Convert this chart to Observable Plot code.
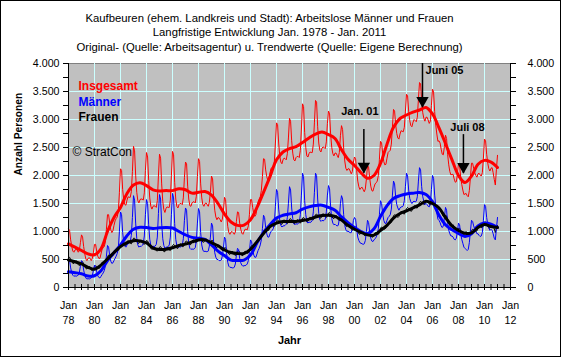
<!DOCTYPE html>
<html><head><meta charset="utf-8">
<script src="https://cdn.jsdelivr.net/npm/d3@7"></script>
<script src="https://cdn.jsdelivr.net/npm/@observablehq/plot@0.6"></script>
<style>
html,body{margin:0;padding:0;background:#fff;}
#chart svg{display:block;outline:1px solid #000;outline-offset:-1px;}
</style></head><body><div id="chart"></div>
<script>
// Monthly values, Jan 1978 ... Jan 2011
const startYear = 1978;
const maenner = [
520,480,350,260,220,200,210,200,210,220,270,380,
480,440,310,220,170,150,160,150,160,170,220,300,
400,380,280,210,180,170,200,230,260,300,380,560,
750,720,580,470,430,440,480,520,560,610,700,1000,
1350,1300,980,800,740,720,760,780,790,820,930,1250,
1640,1560,1150,880,760,720,740,730,750,780,920,1300,
1570,1500,1120,860,750,720,740,730,740,770,900,1320,
1660,1580,1150,870,750,700,720,720,730,760,900,1300,
1680,1600,1140,860,750,720,730,720,730,750,870,1200,
1420,1380,1000,790,700,680,690,680,690,710,830,1150,
1410,1350,980,760,670,640,650,640,640,650,740,900,
1150,1100,800,620,540,500,500,480,480,490,560,700,
900,860,600,450,380,360,360,350,350,360,420,580,
700,680,520,440,400,380,390,390,400,420,480,640,
850,820,680,580,540,540,600,660,700,760,850,1050,
1290,1250,1070,960,900,900,960,1000,1020,1050,1150,1450,
1750,1700,1400,1200,1110,1080,1100,1100,1110,1130,1250,1500,
1800,1740,1420,1230,1140,1120,1140,1130,1140,1160,1300,1650,
2040,1980,1550,1300,1180,1150,1170,1160,1170,1200,1350,1700,
2040,2000,1580,1320,1210,1180,1200,1190,1200,1220,1350,1650,
1820,1760,1430,1230,1150,1120,1130,1110,1100,1110,1220,1500,
1640,1580,1300,1110,1030,1000,1010,990,980,980,1050,1200,
1250,1220,1050,900,840,800,790,780,770,780,840,1000,
1200,1160,1000,880,830,820,850,870,900,950,1050,1300,
1550,1500,1330,1200,1150,1140,1200,1250,1270,1300,1400,1650,
1900,1850,1620,1480,1420,1380,1420,1440,1440,1460,1550,1800,
2040,1990,1740,1590,1530,1500,1530,1540,1530,1540,1620,1900,
2140,2100,1800,1620,1540,1480,1500,1480,1450,1440,1500,1750,
2000,1950,1650,1450,1330,1220,1200,1160,1100,1070,1100,1250,
1430,1380,1150,1020,960,920,920,900,860,850,880,1000,
1150,1120,960,860,790,720,700,680,660,680,800,1000,
1200,1180,1100,1040,1000,960,960,930,910,920,980,1200,
1480,1450,1250,1120,1060,1020,1040,1020,960,880,850,1050,
1250];
const frauen = [
530,540,500,470,430,430,460,480,460,410,390,420,
460,460,420,380,340,330,360,380,360,310,300,320,
370,390,370,350,340,350,400,450,450,430,430,480,
550,580,570,560,550,570,630,670,670,650,660,700,
770,790,770,760,740,750,800,840,820,790,780,820,
880,880,850,820,790,790,830,850,830,780,770,790,
840,830,790,740,700,680,710,730,710,660,650,670,
720,730,700,670,640,640,690,720,700,670,660,700,
750,770,740,720,700,700,750,780,770,730,730,760,
820,830,810,790,760,770,820,850,840,800,800,830,
890,900,870,840,810,810,850,870,840,800,780,800,
840,840,800,760,720,710,750,760,730,680,660,670,
710,710,680,640,600,590,630,650,630,590,570,600,
650,660,630,600,570,570,610,650,640,610,620,660,
720,750,750,740,730,760,820,870,880,860,880,930,
1010,1040,1030,1020,1010,1030,1090,1130,1120,1090,1090,1130,
1190,1210,1180,1150,1130,1130,1180,1210,1190,1150,1140,1170,
1220,1230,1200,1170,1140,1140,1180,1210,1200,1160,1150,1180,
1240,1250,1220,1200,1170,1180,1220,1260,1240,1210,1210,1240,
1300,1310,1290,1260,1240,1240,1290,1320,1300,1260,1250,1280,
1330,1340,1300,1270,1240,1230,1270,1290,1260,1210,1190,1210,
1250,1240,1190,1150,1100,1090,1110,1130,1100,1050,1020,1040,
1080,1080,1040,1000,960,950,990,1010,980,930,920,940,
980,990,960,930,900,900,940,980,970,950,950,990,
1060,1080,1070,1050,1040,1060,1110,1160,1160,1150,1160,1210,
1280,1300,1290,1270,1250,1270,1320,1360,1350,1320,1310,1350,
1410,1430,1410,1390,1360,1370,1420,1460,1450,1420,1420,1460,
1520,1540,1520,1500,1480,1490,1540,1560,1540,1490,1470,1500,
1540,1540,1490,1450,1410,1390,1420,1420,1370,1310,1270,1270,
1290,1280,1220,1170,1110,1090,1100,1120,1080,1030,1010,1020,
1060,1060,1020,980,950,940,970,1000,980,940,930,960,
1020,1040,1030,1010,1000,1010,1070,1110,1100,1070,1070,1110,
1170,1170,1130,1100,1060,1060,1090,1120,1090,1050,980,1060,
1110];
const insgesamt = [
1050,1020,850,730,650,630,670,680,670,630,660,800,
940,900,730,600,510,480,520,530,520,480,520,620,
770,770,650,560,520,520,600,680,710,730,810,1040,
1300,1300,1150,1030,980,1010,1110,1190,1230,1260,1360,1700,
2120,2090,1750,1560,1480,1470,1560,1620,1610,1610,1710,2070,
2520,2440,2000,1700,1550,1510,1570,1580,1580,1560,1690,2090,
2410,2330,1910,1600,1450,1400,1450,1460,1450,1430,1550,1990,
2380,2310,1850,1540,1390,1340,1410,1440,1430,1430,1560,2000,
2430,2370,1880,1580,1450,1420,1480,1500,1500,1480,1600,1960,
2240,2210,1810,1580,1460,1450,1510,1530,1530,1510,1630,1980,
2300,2250,1850,1600,1480,1450,1500,1510,1480,1450,1520,1700,
1990,1940,1600,1380,1260,1210,1250,1240,1210,1170,1220,1370,
1610,1570,1280,1090,980,950,990,1000,980,950,990,1180,
1350,1340,1150,1040,970,950,1000,1040,1040,1030,1100,1300,
1570,1570,1430,1320,1270,1300,1420,1530,1580,1620,1730,1980,
2300,2290,2100,1980,1910,1930,2050,2130,2140,2140,2240,2580,
2940,2910,2580,2350,2240,2210,2280,2310,2300,2280,2390,2670,
3020,2970,2620,2400,2280,2260,2320,2340,2340,2320,2450,2830,
3280,3230,2770,2500,2350,2330,2390,2420,2410,2410,2560,2940,
3340,3310,2870,2580,2450,2420,2490,2510,2500,2480,2600,2930,
3150,3100,2730,2500,2390,2350,2400,2400,2360,2320,2410,2710,
2890,2820,2490,2260,2130,2090,2120,2120,2080,2030,2070,2240,
2330,2300,2090,1900,1800,1750,1780,1790,1750,1710,1760,1940,
2180,2150,1960,1810,1730,1720,1790,1850,1870,1900,2000,2290,
2610,2580,2400,2250,2190,2200,2310,2410,2430,2450,2560,2860,
3180,3150,2910,2750,2670,2650,2740,2800,2790,2780,2860,3150,
3450,3420,3150,2980,2890,2870,2950,3000,2980,2960,3040,3360,
3660,3640,3320,3120,3020,2970,3040,3040,2990,2930,2970,3250,
3540,3490,3140,2900,2740,2610,2620,2580,2470,2380,2370,2520,
2720,2660,2370,2190,2070,2010,2020,2020,1940,1880,1890,2020,
2210,2180,1980,1840,1740,1660,1670,1680,1640,1620,1730,1960,
2220,2220,2130,2050,2000,1970,2030,2040,2010,1990,2050,2310,
2650,2620,2380,2220,2120,2080,2130,2140,2050,1930,1830,2110,
2360];
// Trend values, every half year (Jan, Jul), Jan 1978 ... Jan 2011
const trendInsgesamt = [780,720,660,600,585,690,1000,1250,1430,1680,1830,1870,1820,1745,1725,1730,1730,1765,1745,1685,1700,1715,1650,1500,1310,1170,1110,1115,1210,1430,1700,1980,2280,2420,2480,2515,2590,2670,2740,2775,2730,2660,2460,2290,2180,2050,1950,2000,2214,2560,2860,3018,3080,3130,3170,3214,3100,2850,2570,2280,2000,1875,1990,2200,2270,2240,2143];
const trendMaenner = [280,265,245,205,210,300,480,620,760,925,1040,1075,1070,1055,1065,1072,1062,1000,940,895,880,860,760,650,570,490,482,490,580,800,980,1120,1240,1290,1315,1335,1400,1440,1465,1470,1430,1380,1260,1160,1070,1000,965,1050,1270,1460,1590,1640,1670,1685,1696,1660,1530,1290,1120,1030,965,910,960,1100,1150,1130,1071];
const trendFrauen = [490,460,420,360,325,400,510,625,730,800,835,830,795,705,680,685,710,750,775,815,850,850,800,745,670,625,607,607,680,820,965,1090,1150,1178,1178,1180,1195,1220,1260,1286,1290,1270,1205,1110,1040,985,940,935,1018,1110,1240,1321,1370,1420,1475,1540,1500,1420,1250,1100,1018,970,975,1070,1125,1090,1071];

const yTicks = [0,250,500,750,1000,1250,1500,1750,2000,2250,2500,2750,3000,3250,3500,3750,4000];
const yGrid = [500,1000,1500,2000,2500,3000,3500];
const xLabelYears = [1978,1980,1982,1984,1986,1988,1990,1992,1994,1996,1998,2000,2002,2004,2006,2008,2010,2012];
const xHalfYears = d3.range(1978, 2012.01, 0.5);
const titleLines = [
  "Kaufbeuren (ehem. Landkreis und Stadt): Arbeitslose Männer und Frauen",
  "Langfristige Entwicklung Jan. 1978 - Jan. 2011",
  "Original- (Quelle: Arbeitsagentur) u. Trendwerte (Quelle: Eigene Berechnung)"
];
const legendLabels = ["Insgesamt", "Männer", "Frauen"];
const legendColors = ["#ff0000", "#0000ff", "#000000"];
const annotations = [
  {label: "Jan. 01", date: 2000.72, top: 2820, tip: 2040},
  {label: "Juni 05", date: 2005.23, top: 4000, tip: 3214},
  {label: "Juli 08", date: 2008.38, top: 2730, tip: 2036}
];
const annotationOffsets = [{dx: -4, dy: -18}, {dx: 22, dy: 7}, {dx: 4, dy: -7}];

const monthly = arr => arr.map((v, i) => ({t: startYear + i / 12, v}));
const halfYearly = arr => arr.map((v, i) => ({t: startYear + i / 2, v}));
const fmt = d => String(d).replace(/\B(?=(\d{3})+(?!\d))/g, ".");
const FONT = "Liberation Sans, Arial, sans-serif";

const chart = Plot.plot({
  width: 561, height: 357,
  marginLeft: 68, marginRight: 51, marginTop: 63, marginBottom: 70,
  x: {domain: [1978, 2012], axis: null},
  y: {domain: [0, 4000]},
  style: {fontFamily: FONT, fontSize: "10.67px", background: "#fff", color: "#000", overflow: "visible"},
  marks: [
    Plot.frame({fill: "#c0c0c0", stroke: "#808080"}),
    Plot.ruleY(yGrid, {stroke: "#ccffff", strokeWidth: 1}),
    Plot.ruleX(xLabelYears.slice(1, -1), {stroke: "#ccffff", strokeWidth: 1}),
    Plot.line(monthly(frauen), {x: "t", y: "v", stroke: "#000000", strokeWidth: 1}),
    Plot.line(monthly(maenner), {x: "t", y: "v", stroke: "#0000ff", strokeWidth: 1}),
    Plot.line(monthly(insgesamt), {x: "t", y: "v", stroke: "#ff0000", strokeWidth: 1}),
    Plot.line(halfYearly(trendInsgesamt), {x: "t", y: "v", stroke: "#ff0000", strokeWidth: 3, curve: "catmull-rom"}),
    Plot.line(halfYearly(trendMaenner), {x: "t", y: "v", stroke: "#0000ff", strokeWidth: 3, curve: "catmull-rom"}),
    Plot.line(halfYearly(trendFrauen), {x: "t", y: "v", stroke: "#000000", strokeWidth: 3, curve: "catmull-rom"}),
    // axis lines
    Plot.ruleX([1978, 2012], {stroke: "#000"}),
    Plot.ruleY([0], {stroke: "#000"}),
    Plot.axisY({anchor: "left", ticks: yTicks, tickSize: 5, tickPadding: 4, label: null,
      tickFormat: d => d % 500 ? "" : fmt(d), fontSize: 10.67}),
    Plot.axisY({anchor: "right", ticks: yTicks, tickSize: 5, tickPadding: 12, label: null,
      tickFormat: d => d % 500 ? "" : fmt(d), fontSize: 10.67}),
    Plot.ruleX(xHalfYears, {x: d => d, y1: () => 0, y2: () => 0, insetTop: -3, insetBottom: -3, stroke: "#000"}),
    Plot.text(xLabelYears, {x: d => d, text: d => "Jan\n" + String(d % 100).padStart(2, "0"),
      frameAnchor: "bottom", lineAnchor: "middle", dy: 24.5, lineHeight: 1.4, fontSize: 10.67}),
    // titles
    Plot.text([titleLines.join("\n")], {frameAnchor: "top", dx: -20, dy: -32, lineAnchor: "middle",
      lineHeight: 1.3, fontSize: 11.3}),
    Plot.text(["Jahr"], {frameAnchor: "bottom", dy: 53, lineAnchor: "middle", fontWeight: "bold", fontSize: 11}),
    Plot.text(["Anzahl Personen"], {frameAnchor: "left", dx: -50, rotate: -90, lineAnchor: "middle", fontWeight: "bold", fontSize: 10.2}),
    // legend
    ...legendLabels.map((l, i) => Plot.text([l], {frameAnchor: "top-left", dx: 10, dy: 23 + i * 15.5,
      lineAnchor: "middle", textAnchor: "start", fill: legendColors[i], fontWeight: "bold", fontSize: 12})),
    Plot.text(["© StratCon"], {frameAnchor: "top-left", dx: 4, dy: 89, lineAnchor: "middle", textAnchor: "start", fontSize: 12}),
    // annotations
    Plot.ruleX(annotations, {x: "date", y1: "top", y2: "tip", stroke: "#000", strokeWidth: 1.5}),
    Plot.dot(annotations, {x: "date", y: "tip", symbol: "triangle", rotate: 180, r: 4.6, fill: "#000", stroke: null, dy: -7}),
    ...annotations.map((a, i) => Plot.text([a], {x: "date", y: "top", text: "label",
      dx: annotationOffsets[i].dx, dy: annotationOffsets[i].dy, lineAnchor: "middle",
      fontWeight: "bold", fontSize: 11}))
  ]
});
document.getElementById("chart").appendChild(chart);
</script></body></html>
